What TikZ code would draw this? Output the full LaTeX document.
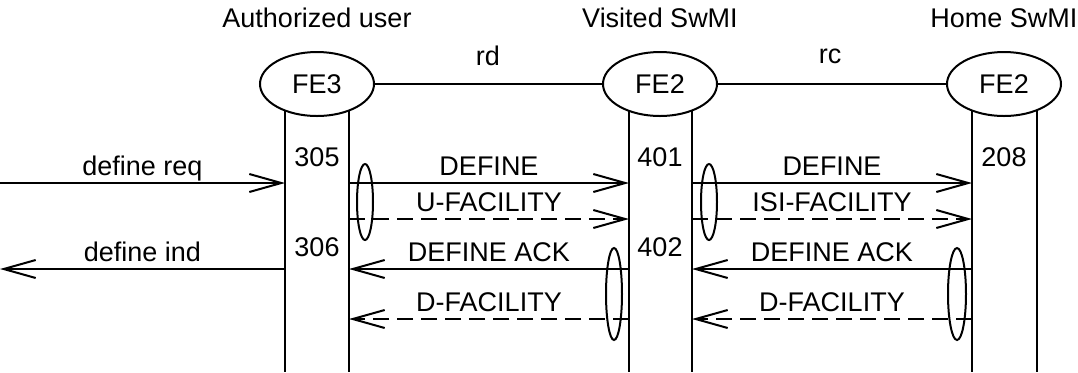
\documentclass[tikz,border=0pt]{standalone}
\usepackage{fontspec}
\setmainfont{Liberation Sans}
\usetikzlibrary{arrows.meta,shapes.geometric}
\tikzset{
  fe/.style={draw, ellipse, fill=white, minimum width=57pt, minimum height=32pt, inner sep=0pt},
  msg/.style={-{Straight Barb[length=16pt,width=9pt,line width=1pt,sep=0pt]}},
  dsh/.style={dash pattern=on 8pt off 4pt},
  lbl/.style={above, text depth=0pt}
}
\begin{document}
\begin{tikzpicture}[x=0.5pt, y=-0.5pt, line width=1pt, font=\fontsize{13.5}{16}\selectfont]
    \useasboundingbox (0,0) rectangle (1078,372);
    \foreach \x in {285,349,629,692,972,1037}
      \draw (\x,84) -- (\x,372);
    \draw (317,84) -- (1004,84);
    \node [fe] (fe3) at (317,84) {FE3};
    \node [fe] (vfe2) at (660,84) {FE2};
    \node [fe] (hfe2) at (1004,84) {FE2};
    \node (au) at (317,18) {Authorized user}
     node (vs) at (660,18) {Visited SwMI}
     node (hs) at (1004,18) {Home SwMI}
     node (rd) at (488,56) {rd}
     node (rc) at (830,56) {rc};
    \node (n305) at (317,157) {305}
     node (n306) at (317,247) {306}
     node (n401) at (660,157) {401}
     node (n402) at (660,247) {402}
     node (n208) at (1004,157) {208};
    % message end points on the lifelines
    \foreach \n/\x in {o/0,a/285,b/349,c/629,d/692,e/972}
      \foreach \r/\y in {1/183,2/219,3/269,4/319}
        \coordinate (\n\r) at (\x,\y);
    \draw [msg] (o1) -- node [lbl] {define req} (a1);
    \draw [msg] (a3) -- node [lbl] {define ind} (o3);
    \draw [msg] (b1) -- node [lbl] {DEFINE} (c1);
    \draw [msg, dsh] (b2) -- node [lbl] {U-FACILITY} (c2);
    \draw [msg] (c3) -- node [lbl] {DEFINE ACK} (b3);
    \draw [msg, dsh] (c4) -- node [lbl] {D-FACILITY} (b4);
    \draw [msg] (d1) -- node [lbl] {DEFINE} (e1);
    \draw [msg, dsh] (d2) -- node [lbl] {ISI-FACILITY} (e2);
    \draw [msg] (e3) -- node [lbl] {DEFINE ACK} (d3);
    \draw [msg, dsh] (e4) -- node [lbl] {D-FACILITY} (d4);
    \draw (365,202) ellipse (8 and 38)
          (709,202) ellipse (8 and 38)
          (614,294) ellipse (8 and 46)
          (957,294) ellipse (9 and 46);
  \end{tikzpicture}
\end{document}
